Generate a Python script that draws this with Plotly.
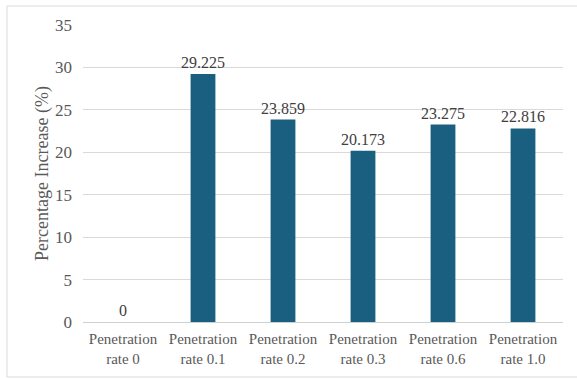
import plotly.graph_objects as go

categories = ["Penetration<br>rate 0", "Penetration<br>rate 0.1", "Penetration<br>rate 0.2",
              "Penetration<br>rate 0.3", "Penetration<br>rate 0.6", "Penetration<br>rate 1.0"]
values = [0, 29.225, 23.859, 20.173, 23.275, 22.816]
value_labels = ["0", "29.225", "23.859", "20.173", "23.275", "22.816"]

FONT = "Times New Roman, serif"
TEXT = "#595959"

fig = go.Figure(go.Bar(
    x=categories, y=values,
    marker=dict(color="#1a5f80", line=dict(width=0)),
    text=value_labels, textposition="outside", cliponaxis=False,
    constraintext="none",
    textfont=dict(family=FONT, size=16, color="#404040"),
))

W, H = 577, 379
ml, mr, mt, mb = 83, 14, 25, 57
pw, ph = W - ml - mr, H - mt - mb

def px_x(x):
    return (x - ml) / pw

def px_y(y):
    return (H - mb - y) / ph

fig.update_layout(
    width=W, height=H,
    margin=dict(l=ml, r=mr, t=mt, b=mb),
    paper_bgcolor="white", plot_bgcolor="white",
    bargap=0.69, showlegend=False,
    font=dict(family=FONT, size=15, color=TEXT),
    xaxis=dict(showgrid=False, tickfont=dict(family=FONT, size=15, color=TEXT),
               showline=True, linecolor="#d0d0d0", linewidth=1, ticks="", ticklabelstandoff=3),
    yaxis=dict(range=[0, 35], dtick=5, showgrid=True, gridcolor="#d9d9d9", gridwidth=1,
               zeroline=False, tickfont=dict(family=FONT, size=17, color=TEXT),
               ticks="", ticklen=0, ticklabelstandoff=10,
               title=dict(text="Percentage Increase (%)", standoff=1,
                          font=dict(family=FONT, size=18, color=TEXT))),
    shapes=[dict(type="rect", xref="paper", yref="paper",
                 x0=px_x(7), x1=px_x(582), y0=px_y(377), y1=px_y(6),
                 line=dict(color="#d9d9d9", width=1), fillcolor="rgba(0,0,0,0)")],
)

fig.write_html("out.html")
